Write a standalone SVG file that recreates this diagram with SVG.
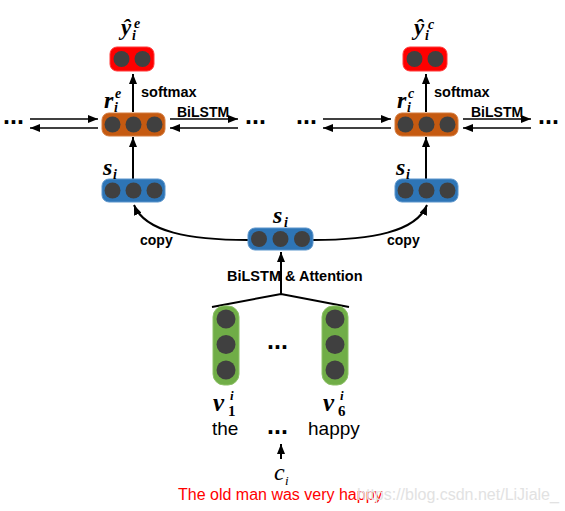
<svg xmlns="http://www.w3.org/2000/svg" width="565" height="511" viewBox="0 0 565 511">
<defs>
<marker id="ah" markerUnits="userSpaceOnUse" markerWidth="10" markerHeight="8" refX="10" refY="4" orient="auto">
<path d="M0,0 L10,4 L0,8 z" fill="#000"/>
</marker>
<style>
.red{fill:#ff0000;stroke:#ff3a3a;stroke-width:1}
.org{fill:#c55a11;stroke:#d47a3c;stroke-width:1}
.blu{fill:#2e75b6;stroke:#5b95cc;stroke-width:1}
.grn{fill:#70ad47;stroke:#8cc067;stroke-width:1}
.dot{fill:#404040}
.ln{fill:none;stroke:#000;stroke-width:2}
.lt{fill:none;stroke:#000;stroke-width:1.5}
.m{font-family:"Liberation Serif",serif;font-style:italic;font-weight:bold;fill:#000}
.mu{font-family:"Liberation Serif",serif;font-weight:bold;fill:#000}
.mi{font-family:"Liberation Serif",serif;font-style:italic;fill:#000}
.b{font-family:"Liberation Sans",Arial,sans-serif;font-weight:bold;font-size:14px;fill:#000}
.b2{font-family:"Liberation Sans",Arial,sans-serif;font-weight:bold;font-size:14.5px;fill:#000}
.r{font-family:"Liberation Sans",Arial,sans-serif;font-size:19px;fill:#000}
.el{font-family:"Liberation Sans",Arial,sans-serif;font-weight:bold;font-size:25px;fill:#000}
</style>
</defs>

<g id="connectors">
<line class="ln" x1="133" y1="112" x2="133" y2="74" marker-end="url(#ah)"/>
<line class="ln" x1="133" y1="179" x2="133" y2="137" marker-end="url(#ah)"/>
<line class="lt" x1="30" y1="119" x2="98" y2="119" marker-end="url(#ah)"/>
<line class="lt" x1="98" y1="128" x2="30" y2="128" marker-end="url(#ah)"/>
<line class="lt" x1="170" y1="119" x2="238" y2="119" marker-end="url(#ah)"/>
<line class="lt" x1="238" y1="128" x2="170" y2="128" marker-end="url(#ah)"/>

<line class="ln" x1="426" y1="112" x2="426" y2="74" marker-end="url(#ah)"/>
<line class="ln" x1="426" y1="179" x2="426" y2="137" marker-end="url(#ah)"/>
<line class="lt" x1="323" y1="119" x2="391" y2="119" marker-end="url(#ah)"/>
<line class="lt" x1="391" y1="128" x2="323" y2="128" marker-end="url(#ah)"/>
<line class="lt" x1="463" y1="119" x2="531" y2="119" marker-end="url(#ah)"/>
<line class="lt" x1="531" y1="128" x2="463" y2="128" marker-end="url(#ah)"/>

<path class="ln" d="M248,240 C190,240 145,232 134,205" marker-end="url(#ah)"/>
<path class="ln" d="M313,240 C371,240 416,232 427,205" marker-end="url(#ah)"/>

<line class="ln" x1="281" y1="295" x2="281" y2="252" marker-end="url(#ah)"/>
<path class="ln" d="M212,307 L281,294 L349,307"/>
<line class="ln" x1="281" y1="459" x2="281" y2="444" marker-end="url(#ah)"/>
</g>

<g id="yhat-e">
<rect class="red" x="110" y="47" width="44" height="24" rx="7"/>
<circle class="dot" cx="121.5" cy="59" r="8"/><circle class="dot" cx="142.5" cy="59" r="8"/>
<text class="m" x="121" y="35" font-size="23">ŷ</text>
<text class="m" x="134" y="28" font-size="14">e</text>
<text class="m" x="132" y="40" font-size="14">i</text>
</g>
<g id="r-e">
<rect class="org" x="102" y="113" width="63" height="23" rx="7"/>
<circle class="dot" cx="112.5" cy="124.5" r="8"/><circle class="dot" cx="133.5" cy="124.5" r="8"/><circle class="dot" cx="154.5" cy="124.5" r="8"/>
<text class="m" x="104" y="108" font-size="24">r</text>
<text class="m" x="115" y="98" font-size="14">e</text>
<text class="m" x="114" y="112" font-size="14">i</text>
<text class="b2" x="141" y="97">softmax</text>
<text class="b" x="177" y="117">BiLSTM</text>
<text class="el" x="3" y="124">...</text>
<text class="el" x="245" y="124">...</text>
</g>
<g id="s-left">
<rect class="blu" x="102" y="179" width="63" height="23" rx="7"/>
<circle class="dot" cx="112.5" cy="190.5" r="8"/><circle class="dot" cx="133.5" cy="190.5" r="8"/><circle class="dot" cx="154.5" cy="190.5" r="8"/>
<text class="m" x="103" y="175" font-size="24">s</text>
<text class="m" x="113" y="179" font-size="14">i</text>
</g>

<g id="yhat-c">
<rect class="red" x="403" y="47" width="44" height="24" rx="7"/>
<circle class="dot" cx="414.5" cy="59" r="8"/><circle class="dot" cx="435.5" cy="59" r="8"/>
<text class="m" x="414" y="35" font-size="23">ŷ</text>
<text class="m" x="428" y="29" font-size="14">c</text>
<text class="m" x="425" y="40" font-size="14">i</text>
</g>
<g id="r-c">
<rect class="org" x="395" y="113" width="63" height="23" rx="7"/>
<circle class="dot" cx="405.5" cy="124.5" r="8"/><circle class="dot" cx="426.5" cy="124.5" r="8"/><circle class="dot" cx="447.5" cy="124.5" r="8"/>
<text class="m" x="397" y="108" font-size="24">r</text>
<text class="m" x="408" y="98" font-size="14">c</text>
<text class="m" x="407" y="112" font-size="14">i</text>
<text class="b2" x="434" y="97">softmax</text>
<text class="b" x="471" y="117">BiLSTM</text>
<text class="el" x="296" y="124">...</text>
<text class="el" x="538" y="124">...</text>
</g>
<g id="s-right">
<rect class="blu" x="395" y="179" width="63" height="23" rx="7"/>
<circle class="dot" cx="405.5" cy="190.5" r="8"/><circle class="dot" cx="426.5" cy="190.5" r="8"/><circle class="dot" cx="447.5" cy="190.5" r="8"/>
<text class="m" x="396" y="175" font-size="24">s</text>
<text class="m" x="406" y="179" font-size="14">i</text>
</g>

<g id="s-center">
<rect class="blu" x="248" y="228" width="65" height="22" rx="7"/>
<circle class="dot" cx="259" cy="239" r="8"/><circle class="dot" cx="280.5" cy="239" r="8"/><circle class="dot" cx="302" cy="239" r="8"/>
<text class="m" x="273" y="223" font-size="24">s</text>
<text class="m" x="284" y="227" font-size="14">i</text>
<text class="b" x="140" y="245">copy</text>
<text class="b" x="387" y="245">copy</text>
<text class="b2" x="227" y="281">BiLSTM &amp; Attention</text>
</g>

<g id="v1">
<rect class="grn" x="213" y="306" width="26" height="79" rx="11"/>
<circle class="dot" cx="226" cy="319" r="9.5"/><circle class="dot" cx="226" cy="344.5" r="9.5"/><circle class="dot" cx="226" cy="370" r="9.5"/>
<text class="m" x="213" y="411" font-size="25">v</text>
<text class="m" x="230" y="400" font-size="13">i</text>
<text class="mu" x="228" y="416" font-size="15">1</text>
<text class="r" x="212" y="435">the</text>
</g>
<g id="v6">
<rect class="grn" x="322" y="306" width="26" height="79" rx="11"/>
<circle class="dot" cx="335" cy="319" r="9.5"/><circle class="dot" cx="335" cy="344.5" r="9.5"/><circle class="dot" cx="335" cy="370" r="9.5"/>
<text class="m" x="323" y="411" font-size="25">v</text>
<text class="m" x="340" y="400" font-size="13">i</text>
<text class="mu" x="338" y="416" font-size="15">6</text>
<text class="r" x="308" y="435">happy</text>
</g>
<g id="mid-dots">
<text class="el" x="267" y="349">...</text>
<text class="el" x="267" y="434">...</text>
</g>
<g id="ci">
<text class="mi" x="274" y="480" font-size="24">c</text>
<text class="mi" x="285" y="485" font-size="13">i</text>
<text x="178" y="500" font-family="Liberation Sans, Arial, sans-serif" font-size="16" fill="#ff0000">The old man was very happy</text>
<text x="357" y="500" font-family="Liberation Sans, Arial, sans-serif" font-size="16" fill="#e2e2e2">https://blog.csdn.net/LiJiale_</text>
</g>
</svg>
